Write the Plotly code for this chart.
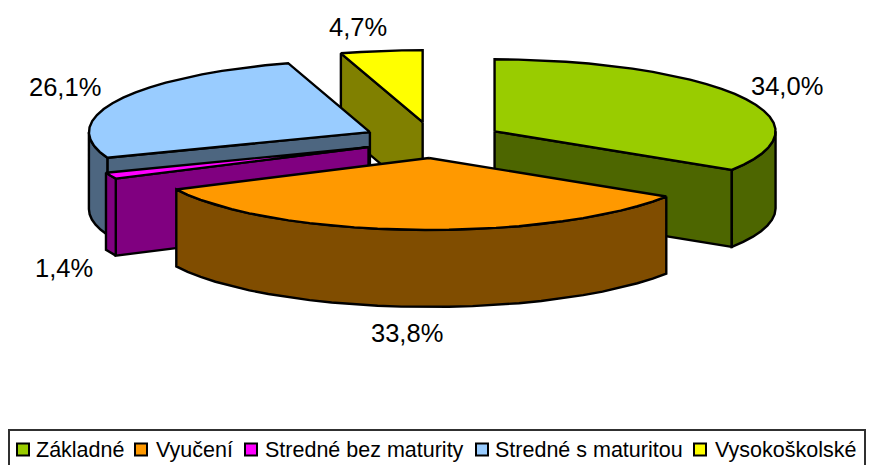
import math
import plotly.graph_objects as go

# --- data ---
categories = ["Základné", "Vyučení", "Stredné bez maturity", "Stredné s maturitou", "Vysokoškolské"]
values = [34.0, 33.8, 1.4, 26.1, 4.7]
value_labels = ["34,0%", "33,8%", "1,4%", "26,1%", "4,7%"]
top_colors = ["#99CC00", "#FF9900", "#FF00FF", "#99CCFF", "#FFFF00"]
side_colors = ["#4D6600", "#804D00", "#800080", "#4D6680", "#808000"]

# --- layout of the drawing ---
W, H = 869, 465
CX, CY, RX, RY, DEPTH, EXPLODE = 433, 140, 281, 72, 77, 0.25
STEP = 5
FONT = "Liberation Sans, Arial, sans-serif"
label_xy = [(787, 86), (407, 333), (64, 268), (65, 87), (358, 27)]
draw_order = [4, 3, 2, 0, 1]
legend_box = (9, 430, 865, 470)
legend_square_x = [17, 135, 245, 476, 694]
legend_text_x = [36, 156, 265, 495, 715]
legend_y = 450

total = sum(values)
spans, a = [], 0.0
for v in values:
    spans.append((a, a + 360 * v / total))
    a += 360 * v / total


def rim(ax, ay, deg):
    r = math.radians(deg)
    return ax + RX * math.sin(r), ay - RY * math.cos(r)


def arc(ax, ay, a0, a1):
    n = max(1, math.ceil((a1 - a0) / STEP))
    return [rim(ax, ay, a0 + (a1 - a0) * i / n) for i in range(n + 1)]


fig = go.Figure()


def poly(pts, color, name):
    fig.add_trace(go.Scatter(
        x=[p[0] for p in pts] + [pts[0][0]],
        y=[p[1] for p in pts] + [pts[0][1]],
        mode="lines", fill="toself", fillcolor=color,
        line=dict(color="black", width=2.4, shape="linear"),
        name=name, hoverinfo="name", showlegend=False,
    ))


for i in draw_order:
    a0, a1 = spans[i]
    mid = math.radians((a0 + a1) / 2)
    ax = CX + EXPLODE * RX * math.sin(mid)
    ay = CY - EXPLODE * RY * math.cos(mid)
    apex = (ax, ay)
    down = lambda p: (p[0], p[1] + DEPTH)
    # radial walls that face the viewer
    if math.sin(math.radians(a0)) < -1e-9:
        p = rim(ax, ay, a0)
        poly([apex, p, down(p), down(apex)], side_colors[i], categories[i])
    if math.sin(math.radians(a1)) > 1e-9:
        p = rim(ax, ay, a1)
        poly([apex, p, down(p), down(apex)], side_colors[i], categories[i])
    # outer wall (only the front half of the rim is visible)
    f0, f1 = max(a0, 90), min(a1, 270)
    if f1 > f0:
        pts = arc(ax, ay, f0, f1)
        poly(pts + [down(p) for p in reversed(pts)], side_colors[i], categories[i])
    # top face
    poly([apex] + arc(ax, ay, a0, a1), top_colors[i], categories[i])

annotations = [
    dict(x=x, y=y, text=t, showarrow=False, xref="x", yref="y",
         font=dict(family=FONT, size=25.5, color="black"))
    for (x, y), t in zip(label_xy, value_labels)
]
shapes = [dict(type="rect", xref="x", yref="y", x0=legend_box[0], y0=legend_box[1],
               x1=legend_box[2], y1=legend_box[3], line=dict(color="#303030", width=2),
               fillcolor="white", layer="below")]
for sx, tx, c, name in zip(legend_square_x, legend_text_x, top_colors, categories):
    shapes.append(dict(type="rect", xref="x", yref="y", x0=sx, x1=sx + 12,
                       y0=legend_y - 6.5, y1=legend_y + 5.5,
                       line=dict(color="black", width=2), fillcolor=c))
    annotations.append(dict(x=tx, y=legend_y, text=name, showarrow=False, xanchor="left",
                            xshift=-2, xref="x", yref="y",
                            font=dict(family=FONT, size=21.5, color="black")))

fig.update_layout(
    width=W, height=H, autosize=False, margin=dict(l=0, r=0, t=0, b=0),
    paper_bgcolor="white", plot_bgcolor="white", showlegend=False,
    xaxis=dict(range=[0, W], visible=False, fixedrange=True),
    yaxis=dict(range=[H, 0], visible=False, fixedrange=True),
    annotations=annotations, shapes=shapes,
)
fig.write_html("out.html", config=dict(displayModeBar=False),
               post_script="document.body.style.margin='0';document.documentElement.style.overflow='hidden';")
